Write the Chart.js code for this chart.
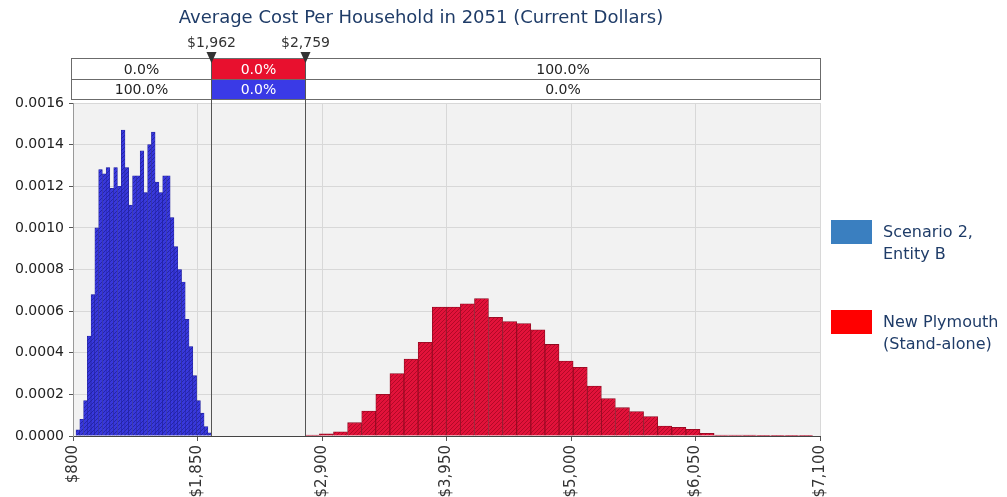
<!DOCTYPE html>
<html>
<head>
<meta charset="utf-8">
<script src="https://cdn.jsdelivr.net/npm/chart.js@4.4.1/dist/chart.umd.min.js"></script>
<style>
  html, body { margin: 0; padding: 0; background: #fff; }
</style>
</head>
<body>
<canvas id="myChart" width="1007" height="497"></canvas>
<script>
const chartTitle = "Average Cost Per Household in 2051 (Current Dollars)";

// bin centres ($) and densities
const blueBins = [841, 873, 905, 936, 968, 1000, 1032, 1064, 1095, 1127, 1159, 1191,
  1223, 1254, 1286, 1318, 1350, 1382, 1413, 1445, 1477, 1509, 1541, 1572,
  1604, 1636, 1668, 1700, 1731, 1763, 1795, 1827, 1859, 1890, 1922, 1954];
const blueValues = [0.00003, 0.00008, 0.00017, 0.00048, 0.00068, 0.00100, 0.00128, 0.00126,
  0.00129, 0.00119, 0.00129, 0.00120, 0.00147, 0.00129, 0.00111, 0.00125, 0.00125, 0.00137,
  0.00117, 0.00140, 0.00146, 0.00122, 0.00117, 0.00125, 0.00125, 0.00105, 0.00091, 0.00080,
  0.00074, 0.00056, 0.00043, 0.00029, 0.00017, 0.00011, 0.000045, 0.000015];

const redBins = [2819, 2937, 3056, 3175, 3294, 3413, 3532, 3651, 3770, 3889, 4008, 4126,
  4245, 4364, 4483, 4602, 4721, 4840, 4959, 5078, 5197, 5315, 5434, 5553,
  5672, 5791, 5910, 6029, 6148, 6267, 6386, 6504, 6623, 6742, 6861, 6980];
const redValues = [0.000005, 0.00001, 0.00002, 0.000064, 0.00012, 0.0002, 0.0003, 0.00037,
  0.00045, 0.00062, 0.00062, 0.000635, 0.00066, 0.00057, 0.00055, 0.00054, 0.00051, 0.00044,
  0.00036, 0.00033, 0.00024, 0.00018, 0.000136, 0.000117, 0.000093, 0.000048, 0.000042, 0.000032,
  0.000013, 0.000005, 0.000005, 0.000004, 0.000001, 0.000003, 0.000001, 0.0000005];

const xTicks = [800, 1850, 2900, 3950, 5000, 6050, 7100];
const yTicks = [0, 0.0002, 0.0004, 0.0006, 0.0008, 0.0010, 0.0012, 0.0014, 0.0016];

const cutLow = 1962;
const cutHigh = 2759;
const redShares = ["0.0%", "0.0%", "100.0%"];
const blueShares = ["100.0%", "0.0%", "0.0%"];
const seriesNames = [["Scenario 2,", "Entity B"], ["New Plymouth", "(Stand-alone)"]];

const canvas = document.getElementById("myChart");
const ctx = canvas.getContext("2d");

function hatch(base, stripe) {
  const tile = document.createElement("canvas");
  tile.width = 4;
  tile.height = 4;
  const g = tile.getContext("2d");
  g.fillStyle = base;
  g.fillRect(0, 0, 4, 4);
  g.strokeStyle = stripe;
  g.lineWidth = 1;
  g.beginPath();
  g.moveTo(0, 4); g.lineTo(4, 0);
  g.moveTo(-1, 1); g.lineTo(1, -1);
  g.moveTo(3, 5); g.lineTo(5, 3);
  g.stroke();
  return ctx.createPattern(tile, "repeat");
}

const fontFace = "'DejaVu Sans', sans-serif";

const extras = {
  id: "extras",
  beforeDraw(chart) {
    const { ctx, chartArea: a } = chart;
    ctx.save();
    ctx.fillStyle = "#f2f2f2";
    ctx.fillRect(a.left, a.top, a.right - a.left, a.bottom - a.top);
    ctx.restore();
  },
  afterDraw(chart) {
    const { ctx, chartArea: a } = chart;
    const xs = chart.scales.x;
    const p1 = Math.round(xs.getPixelForValue(cutLow)) + 0.5;
    const p2 = Math.round(xs.getPixelForValue(cutHigh)) + 0.5;
    const left = a.left - 1.5;
    const right = Math.round(a.right) + 0.5;
    const top = 58.5, mid = 79.5, bot = 99.5;
    ctx.save();

    // title
    ctx.fillStyle = "#1f3c68";
    ctx.font = "18px " + fontFace;
    ctx.textAlign = "center";
    ctx.textBaseline = "middle";
    ctx.fillText(chartTitle, 421, 18);

    // shaded cells
    ctx.fillStyle = "#e8102e";
    ctx.fillRect(p1, top, p2 - p1, mid - top);
    ctx.fillStyle = "#3a3ae6";
    ctx.fillRect(p1, mid, p2 - p1, bot - mid);

    ctx.strokeStyle = "#6b6b6b";
    ctx.lineWidth = 1;
    ctx.strokeRect(left, top, right - left, bot - top);
    ctx.beginPath();
    ctx.moveTo(left, mid); ctx.lineTo(right, mid);
    ctx.stroke();

    // cut lines
    ctx.strokeStyle = "#555";
    ctx.beginPath();
    ctx.moveTo(p1, top); ctx.lineTo(p1, a.bottom);
    ctx.moveTo(p2, top); ctx.lineTo(p2, a.bottom);
    ctx.stroke();

    // percentages
    ctx.font = "14px " + fontFace;
    const centres = [(left + p1) / 2, (p1 + p2) / 2, (p2 + right) / 2];
    centres.forEach((cx, i) => {
      ctx.fillStyle = i === 1 ? "#fff" : "#222";
      ctx.fillText(redShares[i], cx, (top + mid) / 2 + 1);
      ctx.fillText(blueShares[i], cx, (mid + bot) / 2 + 1);
    });

    // markers
    ctx.fillStyle = "#333";
    [p1, p2].forEach((px, i) => {
      ctx.beginPath();
      ctx.moveTo(px - 5, 52);
      ctx.lineTo(px + 5, 52);
      ctx.lineTo(px, 63);
      ctx.closePath();
      ctx.fill();
      const v = i === 0 ? cutLow : cutHigh;
      ctx.fillText("$" + v.toLocaleString("en-US"), px, 43);
    });

    // legend
    const lx = a.right + 11;
    const legendColors = ["#3a7fc0", "#ff0000"];
    const legendTops = [220, 310];
    ctx.textAlign = "left";
    ctx.font = "16px " + fontFace;
    seriesNames.forEach((lines, i) => {
      ctx.fillStyle = legendColors[i];
      ctx.fillRect(lx, legendTops[i], 41, 24);
      ctx.fillStyle = "#1f3c68";
      lines.forEach((t, j) => ctx.fillText(t, lx + 52, legendTops[i] + 13 + j * 22));
    });
    ctx.restore();
  }
};

const myChart = new Chart(ctx, {
  type: "bar",
  data: {
    datasets: [
      {
        label: seriesNames[0].join(" "),
        data: blueBins.map((x, i) => ({ x: x, y: blueValues[i] })),
        xAxisID: "x",
        backgroundColor: hatch("#3838dd", "rgba(20,20,130,0.55)"),
        borderColor: "#23239a",
        borderWidth: 0.6,
        barPercentage: 1,
        categoryPercentage: 1,
        grouped: false,
      },
      {
        label: seriesNames[1].join(" "),
        data: redBins.map((x, i) => ({ x: x, y: redValues[i] })),
        xAxisID: "x2",
        backgroundColor: hatch("#e2123a", "rgba(130,0,20,0.5)"),
        borderColor: "#8e0a20",
        borderWidth: 0.8,
        barPercentage: 1,
        categoryPercentage: 1,
        grouped: false,
      },
    ],
  },
  options: {
    responsive: false,
    animation: false,
    devicePixelRatio: 1,
    layout: { padding: { top: 103, right: 187, left: 0, bottom: 0 } },
    plugins: {
      legend: { display: false },
      tooltip: { enabled: false },
      title: { display: false },
    },
    scales: {
      x: {
        type: "linear",
        min: 800,
        max: 7100,
        offset: false,
        afterBuildTicks: (axis) => { axis.ticks = xTicks.map((v) => ({ value: v })); },
        afterFit: (axis) => { axis.height = 61; },
        grid: { color: "#d8d8d8", tickLength: 5, tickColor: "#555", offset: false },
        border: { color: "#444", width: 1 },
        ticks: {
          minRotation: 90,
          maxRotation: 90,
          padding: 4,
          color: "#333",
          font: { family: fontFace, size: 15 },
          callback: (v) => "$" + Number(v).toLocaleString("en-US"),
        },
      },
      x2: {
        type: "linear",
        axis: "x",
        position: "bottom",
        min: 800,
        max: 7100,
        offset: false,
        display: false,
      },
      y: {
        min: 0,
        max: 0.0016,
        afterBuildTicks: (axis) => { axis.ticks = yTicks.map((v) => ({ value: v })); },
        afterFit: (axis) => { axis.width = 73; },
        grid: { color: "#d8d8d8", tickLength: 4, tickColor: "#555" },
        border: { color: "#999", width: 1 },
        ticks: {
          padding: 5,
          color: "#222",
          font: { family: fontFace, size: 14 },
          callback: (v) => Number(v).toFixed(4),
        },
      },
    },
  },
  plugins: [extras],
});
</script>
</body>
</html>
